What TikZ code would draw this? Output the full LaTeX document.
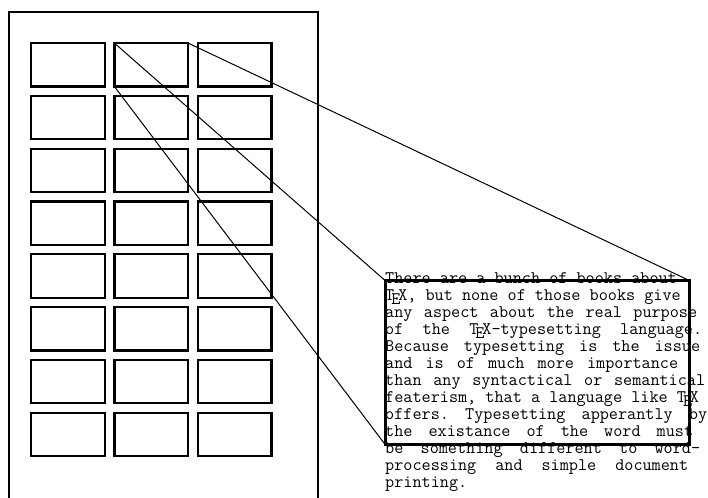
\documentclass[tikz,border=0pt]{standalone}
\usepackage{fontspec}
\newcommand\jline[2]{\makebox[#1][s]{\spaceskip=9.3bp plus 30bp\relax #2}}
\begin{document}
\begin{tikzpicture}[x=1bp,y=-1bp,
  cell/.style={draw,line width=2.2bp,minimum width=73.8bp,minimum height=43.4bp,inner sep=0pt,outer sep=0pt},
  zoomframe/.style={draw,line width=2.7bp,minimum width=304.4bp,minimum height=164bp,inner sep=0pt,outer sep=0pt},
  ray/.style={line width=1bp},
  pageframe/.style={line width=2.2bp},
  para/.style={anchor=north west,inner sep=0pt,align=left,font=\ttfamily\fontsize{17.7bp}{17bp}\selectfont\frenchspacing}]
\useasboundingbox (0,0) rectangle (708,498);
\draw[pageframe] (8.7,500) -- (8.7,12) -- (318,12) -- (318,500);
\foreach \r in {1,...,8}
  \foreach \c in {1,2,3}
    \node[cell] (b\r\c) at ({68+83.3*(\c-1)},{64.8+52.8*(\r-1)}) {};
\node[para] (text) at (385,271) {\rule{0pt}{12bp}There are a bunch of books about\\
\TeX, but none of those books give\\
\jline{312bp}{any aspect about the real purpose}\\
\jline{317bp}{of the \TeX-typesetting language.}\\
\jline{315bp}{Because typesetting is the issue}\\
\jline{293bp}{and is of much more importance}\\
\jline{320bp}{than any syntactical or semantical}\\
featerism, that a language like \TeX\\
\jline{322bp}{offers. Typesetting apperantly by}\\
\jline{308bp}{the existance of the word must}\\
\jline{315bp}{be something different to word-}\\
\jline{303bp}{processing and simple document}\\
printing.};
\node[zoomframe] (frame) at (537.5,362.7) {};
\draw[ray] (b12.north west) -- (frame.north west);
\draw[ray] (b12.north east) -- (frame.north east);
\draw[ray] (b12.south west) -- (frame.south west);
\end{tikzpicture}
\end{document}
